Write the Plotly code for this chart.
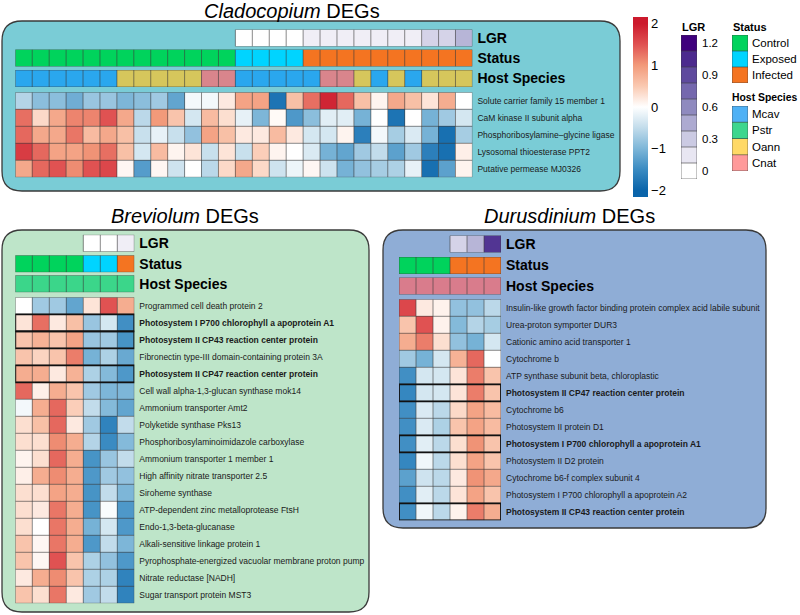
import plotly.graph_objects as go

W, H = 800, 615
FONT = "Liberation Sans, Arial, Helvetica, sans-serif"

# ---------------- data ----------------
# Cladocopium
clado_status = ["Control"] * 13 + ["Exposed"] * 4 + ["Infected"] * 10
clado_host = (["Mcav"] * 6 + ["Oann"] * 5 + ["Cnat"] * 2 + ["Mcav"] * 5 + ["Cnat"] * 2
              + ["Oann", "Mcav", "Oann", "Mcav", "Oann", "Oann", "Oann"])
clado_lgr = [None] * 13 + [0, 0, 0, 0, 0.1, 0.1, 0.1, 0.1, 0.1, 0.1, 0.1, 0.25, 0.25, 0.4]
clado_genes = ["Solute carrier family 15 member 1", "CaM kinase II subunit alpha",
               "Phosphoribosylamine\u2013glycine ligase", "Lysosomal thioesterase PPT2",
               "Putative permease MJ0326"]
clado_expr = [
    [-0.6, -0.9, -0.9, -1.1, -0.8, -0.8, -1.0, -0.9, -0.75, -1.2, -0.1, -0.1, 0.2, 0.9, 0.9, -1.8, 0.6, 1.3, 1.9, 1.35, 0.6, 0.1, 0.85, 0.6, 0.25, 0.8, 0.0],
    [1.3, 0.35, 0.85, 1.15, 1.15, 1.5, 0.85, -0.55, 1.0, 0.55, -0.35, 0.65, 0.3, -0.2, -1.0, 0.05, -1.35, -0.9, -0.25, -0.25, -1.05, 0.0, -1.8, 0.0, -1.05, -0.75, -0.35],
    [1.35, 0.85, 0.85, 1.25, 0.65, 0.85, 0.6, -0.45, -0.2, -0.45, -0.85, 0.9, 0.6, 0.2, 0.2, 0.65, 0.2, -0.35, -0.35, 0.1, -1.65, -0.1, -0.7, -0.3, -1.05, -1.85, -0.7],
    [1.7, 1.35, 0.9, 0.9, 1.05, 1.3, 0.6, -0.35, 0.65, 0.1, 0.25, -0.45, 0.25, -0.45, 0.45, 0.1, 0.0, -0.3, -1.05, -1.2, -0.75, -0.5, -1.25, -0.75, -1.65, -1.85, 0.15],
    [0.85, 1.35, 1.5, 1.1, 1.5, 1.6, 0.08, -1.3, 0.08, -0.4, 0.0, -0.55, 0.35, 0.85, 0.35, -0.4, -0.15, 0.08, -0.4, -1.05, -0.85, -0.7, -0.65, -0.2, -1.85, -1.25, 0.1],
]
clado_bold = []

# Breviolum
brev_status = ["Control", "Control", "Control", "Control", "Exposed", "Exposed", "Infected"]
brev_host = ["Pstr"] * 7
brev_lgr = [None, None, None, None, 0, 0, 0.1]
brev_genes = ["Programmed cell death protein 2",
              "Photosystem I P700 chlorophyll a apoprotein A1",
              "Photosystem II CP43 reaction center protein",
              "Fibronectin type-III domain-containing protein 3A",
              "Photosystem II CP47 reaction center protein",
              "Cell wall alpha-1,3-glucan synthase mok14",
              "Ammonium transporter Amt2",
              "Polyketide synthase Pks13",
              "Phosphoribosylaminoimidazole carboxylase",
              "Ammonium transporter 1 member 1",
              "High affinity nitrate transporter 2.5",
              "Siroheme synthase",
              "ATP-dependent zinc metalloprotease FtsH",
              "Endo-1,3-beta-glucanase",
              "Alkali-sensitive linkage protein 1",
              "Pyrophosphate-energized vacuolar membrane proton pump",
              "Nitrate reductase [NADH]",
              "Sugar transport protein MST3"]
brev_expr = [
    [0.0, -0.75, -0.75, -1.2, 0.25, 1.5, 0.8],
    [0.25, 1.3, 0.2, 0.6, -0.8, -0.35, -1.45],
    [0.55, 0.75, 0.55, 0.9, -0.8, -0.75, -1.4],
    [0.55, 0.4, 0.55, 1.2, -1.05, -0.65, -1.15],
    [0.8, 0.8, 0.2, 0.75, -0.65, -0.95, -1.35],
    [1.35, 0.15, 0.8, 0.55, -0.75, -1.0, -1.0],
    [-0.1, 0.8, 1.35, 0.45, -0.5, -0.95, -1.2],
    [0.3, 0.6, 1.35, 0.2, -0.75, -1.6, -0.5],
    [0.3, 0.3, 1.1, 0.8, -0.6, -1.5, -0.95],
    [0.1, 0.3, 1.35, 0.8, -1.4, -0.8, -0.5],
    [0.15, 0.8, 1.1, 0.8, -1.35, -0.75, -0.85],
    [0.3, 0.3, 0.9, 0.8, -1.4, -0.5, -1.0],
    [0.3, 0.2, 1.25, 0.8, -1.4, -0.05, -1.35],
    [0.3, 0.0, 1.25, 0.8, -1.05, -0.35, -1.35],
    [0.55, 0.08, 1.25, 0.8, -1.35, -0.5, -1.0],
    [0.55, 0.08, 1.5, 0.55, -0.65, -0.85, -1.35],
    [0.2, 0.8, 1.1, 0.55, -0.65, -0.65, -1.6],
    [0.55, 0.3, 1.25, 0.2, -0.75, -0.5, -1.6],
]
brev_bold = ["Photosystem I P700 chlorophyll a apoprotein A1",
             "Photosystem II CP43 reaction center protein",
             "Photosystem II CP47 reaction center protein"]

# Durusdinium
duru_status = ["Control", "Control", "Control", "Infected", "Infected", "Infected"]
duru_host = ["Cnat"] * 6
duru_lgr = [None, None, None, 0.25, 0.4, 1.0]
duru_genes = ["Insulin-like growth factor binding protein complex acid labile subunit",
              "Urea-proton symporter DUR3",
              "Cationic amino acid transporter 1",
              "Cytochrome b",
              "ATP synthase subunit beta, chloroplastic",
              "Photosystem II CP47 reaction center protein",
              "Cytochrome b6",
              "Photosystem II protein D1",
              "Photosystem I P700 chlorophyll a apoprotein A1",
              "Photosystem II D2 protein",
              "Cytochrome b6-f complex subunit 4",
              "Photosystem I P700 chlorophyll a apoprotein A2",
              "Photosystem II CP43 reaction center protein"]
duru_expr = [
    [1.6, 0.2, 0.12, -0.85, -0.85, -0.55],
    [0.55, 1.5, 0.12, -0.95, -0.6, -0.7],
    [0.8, 1.2, 0.3, -0.85, -1.05, -0.35],
    [-0.75, -1.05, -0.35, 0.75, 1.35, 0.0],
    [-1.45, -0.35, -0.35, 0.25, 1.2, 0.55],
    [-1.55, -0.35, -0.35, 0.25, 1.2, 0.55],
    [-1.45, -0.3, -0.55, 0.35, 0.9, 0.65],
    [-1.45, -0.3, -0.65, 0.55, 0.9, 0.65],
    [-1.45, -0.25, -0.55, 0.3, 1.05, 0.55],
    [-1.55, -0.12, -0.55, 0.3, 0.9, 0.55],
    [-1.25, -0.4, -0.55, 0.2, 1.05, 0.85],
    [-1.45, -0.25, -0.55, 0.25, 0.9, 0.55],
    [-1.45, -0.12, -0.55, 0.12, 1.2, 0.8],
]
duru_bold = ["Photosystem II CP47 reaction center protein",
             "Photosystem I P700 chlorophyll a apoprotein A1",
             "Photosystem II CP43 reaction center protein"]

# legends
status_levels = ["Control", "Exposed", "Infected"]
host_levels = ["Mcav", "Pstr", "Oann", "Cnat"]
lgr_levels = [1.2, 1.05, 0.9, 0.75, 0.6, 0.45, 0.3, 0.15, 0.0]
lgr_ticks = [1.2, 0.9, 0.6, 0.3, 0.0]
expr_ticks = [-2, -1, 0, 1, 2]

# ---------------- style ----------------
ZLIM = 2.16  # colour bar extends a little beyond +/-2
expr_stops = [(-2.0, '#0A64AA'), (-1.5, '#3A8BC2'), (-1.0, '#7DB6D8'), (-0.5, '#C2DCEB'),
              (0.0, '#FFFFFF'), (0.5, '#FAC9B1'), (1.0, '#F29A7A'), (1.5, '#E05252'),
              (2.0, '#CC1A2D')]
expr_scale = ([[0.0, expr_stops[0][1]]]
              + [[(v + ZLIM) / (2 * ZLIM), c] for v, c in expr_stops]
              + [[1.0, expr_stops[-1][1]]])
lgr_scale = [[0.0, '#FFFFFF'], [0.125, '#E8E6F2'], [0.25, '#CBCAE3'], [0.375, '#ADAAD1'],
             [0.5, '#8F8ABF'], [0.625, '#7568AE'], [0.75, '#5F4A9E'], [0.875, '#4C2A8E'],
             [1.0, '#3F007D']]
status_colors = {"Control": "#00D35C", "Exposed": "#00D4FF", "Infected": "#F47421"}
host_colors_legend = {"Mcav": "#4FB1F5", "Pstr": "#3ED68E", "Oann": "#FFD966", "Cnat": "#FF9A9A"}
host_colors_panel = {
    "clado": {"Mcav": "#2AA7EE", "Pstr": "#3BD68A", "Oann": "#D6C65C", "Cnat": "#D9858C"},
    "brev": {"Mcav": "#2AA7EE", "Pstr": "#3BD68A", "Oann": "#D6C65C", "Cnat": "#D9858C"},
    "duru": {"Mcav": "#2AA7EE", "Pstr": "#3BD68A", "Oann": "#D6C65C", "Cnat": "#D97C8C"},
}
GRID = 'rgba(60,60,60,0.6)'

fig = go.Figure()
_ax = [0]


def dom_x(x0, x1):
    return [x0 / W, x1 / W]


def dom_y(y0, y1):
    return [1 - y1 / H, 1 - y0 / H]


def new_axes(xpx, ypx, ncols, nrows, ticktext=None, tickfont=None, standoff=3):
    _ax[0] += 1
    k = _ax[0]
    sfx = '' if k == 1 else str(k)
    xn, yn = 'x' + sfx, 'y' + sfx
    fig.layout['xaxis' + sfx] = dict(domain=dom_x(*xpx), range=[-0.5, ncols - 0.5], visible=False,
                                     anchor=yn, fixedrange=True)
    ya = dict(domain=dom_y(*ypx), range=[nrows - 0.5, -0.5], anchor=xn, showgrid=False,
              zeroline=False, showline=False, ticks='', side='right', fixedrange=True)
    if ticktext is not None:
        ya.update(tickmode='array', tickvals=list(range(nrows)), ticktext=ticktext,
                  tickfont=tickfont, showticklabels=True, ticklabelstandoff=standoff)
    else:
        ya.update(showticklabels=False)
    fig.layout['yaxis' + sfx] = ya
    return xn, yn


def add_grid(xn, yn, cols, nrows):
    xs, ys = [], []
    c0, c1 = cols[0] - 0.5, cols[-1] + 0.5
    for c in cols + [cols[-1] + 1]:
        xs += [c - 0.5, c - 0.5, None]
        ys += [-0.5, nrows - 0.5, None]
    for r in range(nrows + 1):
        xs += [c0, c1, None]
        ys += [r - 0.5, r - 0.5, None]
    fig.add_trace(go.Scatter(x=xs, y=ys, mode='lines', line=dict(color=GRID, width=1),
                             hoverinfo='skip', xaxis=xn, yaxis=yn, showlegend=False))


def discrete_scale(colors):
    n = len(colors)
    sc = []
    for i, c in enumerate(colors):
        sc += [[i / n, c], [(i + 1) / n, c]]
    return sc


def cat_row(values, levels, cmap, xpx, ypx, label, fs):
    n = len(values)
    xn, yn = new_axes(xpx, ypx, n, 1, ticktext=['<b>%s</b>' % label],
                      tickfont=dict(size=fs, color='black', family=FONT), standoff=4)
    codes = [levels.index(v) for v in values]
    fig.add_trace(go.Heatmap(z=[codes], x=list(range(n)), y=[0], zmin=-0.5, zmax=len(levels) - 0.5,
                             colorscale=discrete_scale([cmap[l] for l in levels]), showscale=False,
                             hoverinfo='skip', xaxis=xn, yaxis=yn))
    add_grid(xn, yn, list(range(n)), 1)


def lgr_row(values, xpx, ypx, label, fs):
    n = len(values)
    xn, yn = new_axes(xpx, ypx, n, 1, ticktext=['<b>%s</b>' % label],
                      tickfont=dict(size=fs, color='black', family=FONT), standoff=4)
    cols = [i for i, v in enumerate(values) if v is not None]
    fig.add_trace(go.Heatmap(z=[[values[i] for i in cols]], x=cols, y=[0], zmin=0, zmax=1.2,
                             colorscale=lgr_scale, showscale=False, hoverinfo='skip',
                             xaxis=xn, yaxis=yn))
    add_grid(xn, yn, cols, 1)


def main_heat(expr, genes, bold, xpx, ypx, colorbar=False):
    nrows, ncols = len(expr), len(expr[0])
    labels = ['<b>%s</b>' % g if g in bold else g for g in genes]
    xn, yn = new_axes(xpx, ypx, ncols, nrows, ticktext=labels,
                      tickfont=dict(size=8.5, color='#1a1a1a', family=FONT), standoff=4)
    if colorbar:
        kw = dict(showscale=True, colorbar=dict(
            x=633 / W, xanchor='left', y=1 - 17 / H, yanchor='top', len=180, lenmode='pixels',
            thickness=15, thicknessmode='pixels', tickvals=expr_ticks, ticks='', outlinewidth=0,
            xpad=0, ypad=0, tickfont=dict(size=13, color='black', family=FONT)))
    else:
        kw = dict(showscale=False)
    fig.add_trace(go.Heatmap(z=expr, x=list(range(ncols)), y=list(range(nrows)), zmin=-ZLIM,
                             zmax=ZLIM, colorscale=expr_scale, hoverinfo='skip', xaxis=xn,
                             yaxis=yn, **kw))
    add_grid(xn, yn, list(range(ncols)), nrows)
    for g in bold:
        r = genes.index(g)
        fig.add_shape(type='rect', xref=xn, yref=yn, x0=-0.5, x1=ncols - 0.5, y0=r - 0.5, y1=r + 0.5,
                      line=dict(color='#111111', width=1.8), layer='above')


def rr_path(x0, y0, x1, y1, r):
    pts = [('M', [(x0 + r, y0)]), ('L', [(x1 - r, y0)]), ('Q', [(x1, y0), (x1, y0 + r)]),
           ('L', [(x1, y1 - r)]), ('Q', [(x1, y1), (x1 - r, y1)]), ('L', [(x0 + r, y1)]),
           ('Q', [(x0, y1), (x0, y1 - r)]), ('L', [(x0, y0 + r)]), ('Q', [(x0, y0), (x0 + r, y0)])]
    s = ''
    for cmd, ps in pts:
        s += cmd + ' ' + ' '.join('%.5f,%.5f' % (px / W, 1 - py / H) for px, py in ps) + ' '
    return s + 'Z'


# ---------------- panels ----------------
panels = [
    (2, 21, 620, 191, '#7ACCD6'),
    (2, 230, 369, 612, '#BEE5C9'),
    (383, 230, 766, 528, '#8FADD6'),
]
for x0, y0, x1, y1, col in panels:
    fig.add_shape(type='path', xref='paper', yref='paper', path=rr_path(x0, y0, x1, y1, 20),
                  fillcolor=col, line=dict(color='#3a3a3a', width=1.3), layer='below')

titles = [("<i>Cladocopium</i> DEGs", 291.5, 11), ("<i>Breviolum</i> DEGs", 185, 216),
          ("<i>Durusdinium</i> DEGs", 569, 216)]
for t, x, y in titles:
    fig.add_annotation(text=t, x=x / W, y=1 - y / H, xref='paper', yref='paper', showarrow=False,
                       xanchor='center', yanchor='middle', font=dict(size=20, color='black', family=FONT))

# Cladocopium
cx0, cw = 15.3, 16.93
cx1 = cx0 + cw * len(clado_status)
lgr_row(clado_lgr, (cx0, cx1), (29.5, 46.5), 'LGR', 14)
cat_row(clado_status, status_levels, status_colors, (cx0, cx1), (49.5, 66.5), 'Status', 14)
cat_row(clado_host, host_levels, host_colors_panel['clado'], (cx0, cx1), (70, 87), 'Host Species', 14)
main_heat(clado_expr, clado_genes, clado_bold, (cx0, cx1), (92.3, 92.3 + 17 * len(clado_genes)), colorbar=True)

# Breviolum
bx0 = 15.3
bx1 = bx0 + 17 * len(brev_status)
lgr_row(brev_lgr, (bx0, bx1), (234.7, 251.7), 'LGR', 14)
cat_row(brev_status, status_levels, status_colors, (bx0, bx1), (255.3, 272.3), 'Status', 14)
cat_row(brev_host, host_levels, host_colors_panel['brev'], (bx0, bx1), (275.3, 292.3), 'Host Species', 14)
main_heat(brev_expr, brev_genes, brev_bold, (bx0, bx1), (297.3, 297.3 + 17 * len(brev_genes)))

# Durusdinium
dx0 = 399
dx1 = dx0 + 17 * len(duru_status)
lgr_row(duru_lgr, (dx0, dx1), (235.5, 252.5), 'LGR', 14)
cat_row(duru_status, status_levels, status_colors, (dx0, dx1), (257, 274), 'Status', 14)
cat_row(duru_host, host_levels, host_colors_panel['duru'], (dx0, dx1), (277.5, 294.5), 'Host Species', 14)
main_heat(duru_expr, duru_genes, duru_bold, (dx0, dx1), (299.3, 299.3 + 17 * len(duru_genes)))

# ---------------- legends ----------------
legfont = dict(size=11.5, color='black', family=FONT)
# LGR legend
xn, yn = new_axes((681, 697), (35, 179), 1, len(lgr_levels), ticktext=None)
fig.layout['yaxis' + yn[1:]].update(tickmode='array',
                                    tickvals=[lgr_levels.index(v) for v in lgr_ticks],
                                    ticktext=['%g' % v for v in lgr_ticks], tickfont=legfont,
                                    showticklabels=True, ticklabelstandoff=4)
fig.add_trace(go.Heatmap(z=[[v] for v in lgr_levels], x=[0], y=list(range(len(lgr_levels))),
                         zmin=0, zmax=1.2, colorscale=lgr_scale, showscale=False, hoverinfo='skip',
                         xaxis=xn, yaxis=yn))
add_grid(xn, yn, [0], len(lgr_levels))

# Status legend
xn, yn = new_axes((732, 748), (35, 83), 1, len(status_levels), ticktext=status_levels,
                  tickfont=legfont, standoff=3)
fig.add_trace(go.Heatmap(z=[[i] for i in range(len(status_levels))], x=[0],
                         y=list(range(len(status_levels))), zmin=-0.5, zmax=len(status_levels) - 0.5,
                         colorscale=discrete_scale([status_colors[l] for l in status_levels]),
                         showscale=False, hoverinfo='skip', xaxis=xn, yaxis=yn))
add_grid(xn, yn, [0], len(status_levels))

# Host legend
xn, yn = new_axes((732, 748), (106, 171), 1, len(host_levels), ticktext=host_levels,
                  tickfont=legfont, standoff=3)
fig.add_trace(go.Heatmap(z=[[i] for i in range(len(host_levels))], x=[0],
                         y=list(range(len(host_levels))), zmin=-0.5, zmax=len(host_levels) - 0.5,
                         colorscale=discrete_scale([host_colors_legend[l] for l in host_levels]),
                         showscale=False, hoverinfo='skip', xaxis=xn, yaxis=yn))
add_grid(xn, yn, [0], len(host_levels))

for t, x, y, fs in [("LGR", 681, 27, 11), ("Status", 732, 27, 11), ("Host Species", 731, 97, 10.4)]:
    fig.add_annotation(text='<b>%s</b>' % t, x=x / W, y=1 - y / H, xref='paper', yref='paper',
                       showarrow=False, xanchor='left', yanchor='middle', xshift=-1,
                       font=dict(size=fs, color='black', family=FONT))

fig.update_layout(width=W, height=H, margin=dict(l=0, r=0, t=0, b=0), paper_bgcolor='white',
                  plot_bgcolor='rgba(0,0,0,0)', showlegend=False, font=dict(family=FONT))
fig.write_html("out.html", config={'displayModeBar': False},
               post_script="document.body.style.margin='0px';document.body.style.overflow='hidden';")
